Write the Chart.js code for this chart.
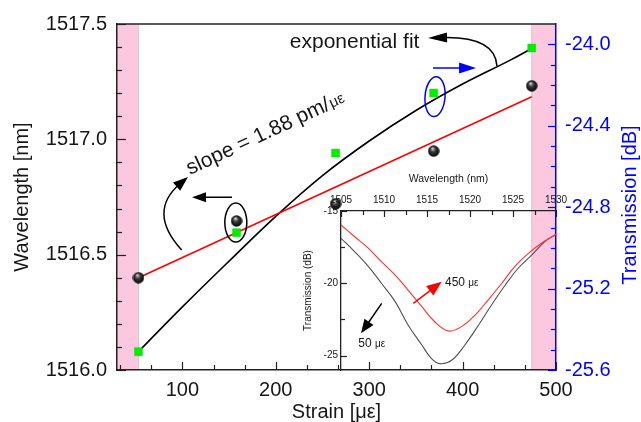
<!DOCTYPE html>
<html>
<head>
<meta charset="utf-8">
<script src="https://cdn.jsdelivr.net/npm/chart.js@4.4.1/dist/chart.umd.min.js"></script>
<style>
  html, body { margin: 0; padding: 0; background: #fff; }
  #wrap { position: relative; width: 641px; height: 422px; }
  #wrap canvas { position: absolute; left: 0; top: 0; }
</style>
</head>
<body>
<div id="wrap">
  <canvas id="mainChart" width="641" height="422"></canvas>
  <canvas id="insetChart" width="641" height="422"></canvas>
</div>
<script>
// main plot: strain vs wavelength (left) and transmission (right)
var strain = [53, 158, 264, 369, 474];
var wavelength = [1516.40, 1516.646, 1516.72, 1516.949, 1517.232];
var transmission = [-25.51, -24.925, -24.534, -24.239, -24.018];

var linFitStrain = [53, 474];
var linFitWavelength = [1516.40, 1517.185];

var expFitStrain = [53, 100, 150, 200, 250, 300, 350, 400, 450, 474];
var expFitTransmission = [-25.51, -25.29, -25.065, -24.845, -24.645, -24.475, -24.325, -24.195, -24.08, -24.02];

var strainTicks = [];
for (var k = 1; k <= 15; k++) strainTicks.push(k * 100 / 3);
var wavelengthTicks = [];
for (var k = 0; k <= 15; k++) wavelengthTicks.push(1516 + k / 10);
var transmissionTicks = [];
for (var k = 0; k <= 16; k++) transmissionTicks.push(-25.6 + k / 10);

// inset: transmission spectra
var spec50Wl = [1505, 1506.6, 1508.2, 1509.7, 1511.3, 1512.8, 1514.4, 1515.5, 1516.5, 1517.9, 1519.4, 1521.0, 1522.5, 1524.1, 1525.6, 1527.2, 1528.7, 1530];
var spec50Db = [-16.89, -17.82, -18.85, -20.0, -21.27, -22.89, -24.27, -25.19, -25.56, -25.31, -24.27, -22.89, -21.50, -20.12, -18.96, -18.04, -17.12, -16.61];
var spec450Wl = [1505, 1506.6, 1508.2, 1509.7, 1511.3, 1512.8, 1514.4, 1515.9, 1517.5, 1519.0, 1520.6, 1522.1, 1523.7, 1525.2, 1526.8, 1528.3, 1530];
var spec450Db = [-15.97, -16.78, -17.58, -18.51, -19.43, -20.47, -21.62, -22.66, -23.30, -23.00, -22.20, -21.16, -20.00, -18.85, -17.93, -17.23, -16.61];
var insetWlTicks = [1505, 1507.5, 1510, 1512.5, 1515, 1517.5, 1520, 1522.5, 1525, 1527.5, 1530];
var insetDbTicks = [-25, -22.5, -20, -17.5, -15];

// annotation anchors, in data units
var noteExpText = [215, 1517.422];
var noteExpArrow = [[436.8, 1517.318], [434.7, 1517.448], [363, 1517.439]];
var noteBlueArrow = [[368.3, 1517.309], [414.4, 1517.309]];
var noteBlueEllipse = [370.5, 1517.185];
var noteSlope = [108.2, 1516.845];
var noteLeftArrow = [[153.1, 1516.749], [110.3, 1516.749]];
var noteCurlArrow = [[99.3, 1516.52], [62.1, 1516.685], [106, 1516.837]];
var noteBlackEllipse = [157.2, 1516.639];
var insetRedArrow = [[1513.41, -21.39], [1516.71, -19.89]];
var insetLabel450 = [1517.09, -19.95];
var insetBlackArrow = [[1509.73, -21.39], [1507.33, -23.46]];
var insetLabel50 = [1507.01, -24.17];

var FONT = "'Liberation Sans', Arial, sans-serif";
var BLUE = '#0000ff';
var INK = '#161616';
Chart.defaults.font.family = FONT;

function isMult(v, step) {
    var r = v / step;
    return Math.abs(r - Math.round(r)) < 1e-6;
}

function makeSphere(d) {
    var c = document.createElement('canvas');
    c.width = d; c.height = d;
    var g = c.getContext('2d');
    var r = d / 2;
    var grad = g.createRadialGradient(r * 0.8, r * 0.55, 0.3, r, r, r);
    grad.addColorStop(0, '#d8d8d8');
    grad.addColorStop(0.4, '#3a3a3a');
    grad.addColorStop(1, '#000');
    g.fillStyle = grad;
    g.beginPath();
    g.arc(r, r, r - 0.3, 0, Math.PI * 2);
    g.fill();
    return c;
}

function arrowHead(ctx, x, y, ang, len, half) {
    var c = Math.cos(ang), s = Math.sin(ang);
    ctx.beginPath();
    ctx.moveTo(x, y);
    ctx.lineTo(x - len * c + half * s, y - len * s - half * c);
    ctx.lineTo(x - len * c - half * s, y - len * s + half * c);
    ctx.closePath();
    ctx.fill();
}

function drawArrow(ctx, pts, color, len, half) {
    ctx.strokeStyle = color;
    ctx.fillStyle = color;
    var a = pts[0], b = pts[pts.length - 1], prev = pts[pts.length - 2];
    var ang = Math.atan2(b[1] - prev[1], b[0] - prev[0]);
    ctx.beginPath();
    ctx.moveTo(a[0], a[1]);
    if (pts.length === 3) {
        ctx.quadraticCurveTo(pts[1][0], pts[1][1], b[0] - len * 0.7 * Math.cos(ang), b[1] - len * 0.7 * Math.sin(ang));
    } else {
        ctx.lineTo(b[0] - len * 0.7 * Math.cos(ang), b[1] - len * 0.7 * Math.sin(ang));
    }
    ctx.stroke();
    arrowHead(ctx, b[0], b[1], ang, len, half);
}

// inward tick marks, long on labelled ticks
var tickMarks = {
    id: 'tickMarks',
    afterDraw: function (chart, args, opts) {
        var ctx = chart.ctx, area = chart.chartArea;
        opts.axes.forEach(function (a) {
            var s = chart.scales[a.id];
            ctx.save();
            ctx.strokeStyle = a.color;
            ctx.lineWidth = 1.2;
            s.ticks.forEach(function (t) {
                var len = t.label !== '' ? a.major : a.minor;
                var p = Math.round(s.getPixelForValue(t.value)) + 0.5;
                ctx.beginPath();
                if (s.position === 'bottom') { ctx.moveTo(p, area.bottom); ctx.lineTo(p, area.bottom - len); }
                else if (s.position === 'top') { ctx.moveTo(p, area.top); ctx.lineTo(p, area.top + len); }
                else if (s.position === 'left') { ctx.moveTo(area.left, p); ctx.lineTo(area.left + len, p); }
                else { ctx.moveTo(area.right, p); ctx.lineTo(area.right - len, p); }
                ctx.stroke();
            });
            ctx.restore();
        });
    }
};

var pinkBands = {
    id: 'pinkBands',
    beforeDraw: function (chart) {
        var ctx = chart.ctx, area = chart.chartArea, x = chart.scales.x;
        var x0 = x.getPixelForValue(strain[0]);
        var x1 = x.getPixelForValue(strain[strain.length - 1]);
        ctx.save();
        ctx.fillStyle = 'rgb(251,200,224)';
        ctx.fillRect(area.left, area.top, x0 - area.left, area.bottom - area.top);
        ctx.fillRect(x1, area.top, area.right - x1, area.bottom - area.top);
        ctx.strokeStyle = 'rgb(225,195,205)';
        ctx.lineWidth = 1;
        ctx.beginPath();
        ctx.moveTo(x0, area.top); ctx.lineTo(x0, area.bottom);
        ctx.moveTo(x1, area.top); ctx.lineTo(x1, area.bottom);
        ctx.stroke();
        ctx.restore();
    }
};

var mainNotes = {
    id: 'mainNotes',
    afterDatasetsDraw: function (chart) {
        var ctx = chart.ctx;
        function pt(p) { return [chart.scales.x.getPixelForValue(p[0]), chart.scales.y.getPixelForValue(p[1])]; }
        ctx.save();
        ctx.lineWidth = 1.5;

        ctx.fillStyle = INK;
        ctx.font = '21px ' + FONT;
        ctx.textAlign = 'left';
        ctx.textBaseline = 'middle';
        var t = pt(noteExpText);
        ctx.fillText('exponential fit', t[0], t[1]);
        drawArrow(ctx, noteExpArrow.map(pt), '#000', 19, 5);

        drawArrow(ctx, noteBlueArrow.map(pt), BLUE, 17, 5.5);
        var e = pt(noteBlueEllipse);
        ctx.strokeStyle = BLUE;
        ctx.beginPath(); ctx.ellipse(e[0], e[1], 10, 20, 0.08, 0, Math.PI * 2); ctx.stroke();

        var be = pt(noteBlackEllipse);
        ctx.strokeStyle = '#000';
        ctx.beginPath(); ctx.ellipse(be[0], be[1], 11, 19.5, 0, 0, Math.PI * 2); ctx.stroke();

        drawArrow(ctx, noteLeftArrow.map(pt), '#000', 14, 5);
        drawArrow(ctx, noteCurlArrow.map(pt), '#000', 15, 5.5);

        var s = pt(noteSlope);
        ctx.translate(s[0], s[1]);
        ctx.rotate(-25 * Math.PI / 180);
        ctx.fillStyle = INK;
        ctx.textBaseline = 'alphabetic';
        ctx.font = '21px ' + FONT;
        var txt = 'slope = 1.88 pm/';
        ctx.fillText(txt, 0, 0);
        var w = ctx.measureText(txt).width;
        ctx.font = '15px ' + FONT;
        ctx.fillText('\u03bc\u03b5', w + 1, -1);
        ctx.restore();
    },
    afterDraw: function (chart) {
        var ctx = chart.ctx, area = chart.chartArea;
        ctx.save();
        ctx.strokeStyle = '#222';
        ctx.lineWidth = 1.5;
        ctx.beginPath();
        ctx.moveTo(area.left, area.top);
        ctx.lineTo(area.right, area.top);
        ctx.stroke();
        ctx.translate(area.right + 74, (area.top + area.bottom) / 2 + 8);
        ctx.rotate(-Math.PI / 2);
        ctx.fillStyle = BLUE;
        ctx.font = '20px ' + FONT;
        ctx.textAlign = 'center';
        ctx.textBaseline = 'middle';
        ctx.fillText('Transmission [dB]', 0, 0);
        ctx.restore();
    }
};

var insetNotes = {
    id: 'insetNotes',
    afterDatasetsDraw: function (chart) {
        var ctx = chart.ctx;
        function pt(p) { return [chart.scales.x.getPixelForValue(p[0]), chart.scales.y.getPixelForValue(p[1])]; }
        ctx.save();
        ctx.lineWidth = 1.5;
        drawArrow(ctx, insetRedArrow.map(pt), '#ff0000', 15, 6);
        drawArrow(ctx, insetBlackArrow.map(pt), '#000', 14, 5.5);
        ctx.fillStyle = INK;
        ctx.textAlign = 'left';
        ctx.textBaseline = 'middle';
        [[insetLabel450, '450 '], [insetLabel50, '50 ']].forEach(function (n) {
            var p = pt(n[0]);
            ctx.font = '12px ' + FONT;
            ctx.fillText(n[1], p[0], p[1]);
            var w = ctx.measureText(n[1]).width;
            ctx.font = '10px ' + FONT;
            ctx.fillText('\u03bc\u03b5', p[0] + w, p[1] + 1);
        });
        ctx.restore();
    }
};

function xy(xs, ys) {
    return xs.map(function (v, i) { return { x: v, y: ys[i] }; });
}

new Chart(document.getElementById('mainChart'), {
    type: 'scatter',
    data: {
        datasets: [
            {
                label: 'Wavelength',
                data: xy(strain, wavelength),
                yAxisID: 'y',
                pointStyle: makeSphere(12),
                pointRadius: 6,
                order: 0
            },
            {
                label: 'Transmission',
                data: xy(strain, transmission),
                yAxisID: 'y1',
                pointStyle: 'rect',
                pointRadius: 5.6,
                backgroundColor: '#00ee00',
                borderColor: '#00dd00',
                borderWidth: 0.5,
                order: 1
            },
            {
                label: 'Linear fit',
                data: xy(linFitStrain, linFitWavelength),
                yAxisID: 'y',
                showLine: true,
                pointRadius: 0,
                borderColor: '#ff0000',
                borderWidth: 1.6,
                order: 2
            },
            {
                label: 'Exponential fit',
                data: xy(expFitStrain, expFitTransmission),
                yAxisID: 'y1',
                showLine: true,
                pointRadius: 0,
                borderColor: '#000',
                borderWidth: 1.6,
                tension: 0.4,
                order: 3
            }
        ]
    },
    options: {
        responsive: false,
        animation: false,
        events: [],
        layout: { padding: { top: 24, left: 0, right: 0, bottom: 0 } },
        plugins: {
            legend: { display: false },
            tooltip: { enabled: false },
            tickMarks: {
                axes: [
                    { id: 'x', color: '#222', major: 8, minor: 5 },
                    { id: 'y', color: '#222', major: 9, minor: 5 },
                    { id: 'y1', color: BLUE, major: 8, minor: 5 }
                ]
            }
        },
        scales: {
            x: {
                type: 'linear',
                position: 'bottom',
                min: 30,
                max: 500,
                afterBuildTicks: function (s) { s.ticks = strainTicks.map(function (v) { return { value: v }; }); },
                afterFit: function (s) { s.height = 52; },
                grid: { display: false, drawTicks: false },
                border: { display: true, color: '#222', width: 1.5, z: 1 },
                ticks: {
                    autoSkip: false,
                    maxRotation: 0,
                    padding: 8,
                    color: INK,
                    font: { size: 20 },
                    callback: function (v) { return isMult(v, 100) ? String(Math.round(v)) : ''; }
                },
                title: {
                    display: true,
                    text: 'Strain [\u03bc\u03b5]',
                    color: INK,
                    font: { size: 20, lineHeight: 1 },
                    padding: { top: 0, bottom: 0 }
                }
            },
            y: {
                position: 'left',
                min: 1516,
                max: 1517.5,
                afterBuildTicks: function (s) { s.ticks = wavelengthTicks.map(function (v) { return { value: v }; }); },
                afterFit: function (s) { s.width = 117; },
                grid: { display: false, drawTicks: false },
                border: { display: true, color: '#222', width: 1.5, z: 1 },
                ticks: {
                    autoSkip: false,
                    padding: 10,
                    color: INK,
                    font: { size: 20 },
                    callback: function (v) { return isMult(v - 1516, 0.5) ? v.toFixed(1) : ''; }
                },
                title: {
                    display: true,
                    text: 'Wavelength [nm]',
                    color: INK,
                    font: { size: 20 },
                    padding: { top: 10, bottom: 0 }
                }
            },
            y1: {
                position: 'right',
                min: -25.6,
                max: -23.9,
                afterBuildTicks: function (s) { s.ticks = transmissionTicks.map(function (v) { return { value: v }; }); },
                afterFit: function (s) { s.width = 85; },
                grid: { display: false, drawTicks: false },
                border: { display: true, color: BLUE, width: 1.5, z: 1 },
                ticks: {
                    autoSkip: false,
                    padding: 9,
                    color: BLUE,
                    font: { size: 20 },
                    callback: function (v) { return isMult(v + 25.6, 0.4) ? v.toFixed(1) : ''; }
                },
                title: { display: false }
            }
        }
    },
    plugins: [pinkBands, mainNotes, tickMarks]
});

new Chart(document.getElementById('insetChart'), {
    type: 'scatter',
    data: {
        datasets: [
            {
                label: '450',
                data: xy(spec450Wl, spec450Db),
                showLine: true,
                pointRadius: 0,
                borderColor: '#ff3030',
                borderWidth: 1.1,
                tension: 0.4
            },
            {
                label: '50',
                data: xy(spec50Wl, spec50Db),
                showLine: true,
                pointRadius: 0,
                borderColor: '#505050',
                borderWidth: 1.1,
                tension: 0.4
            }
        ]
    },
    options: {
        responsive: false,
        animation: false,
        events: [],
        layout: { padding: { top: 170, left: 300, right: 85, bottom: 52 } },
        plugins: {
            legend: { display: false },
            tooltip: { enabled: false },
            tickMarks: {
                axes: [
                    { id: 'x', color: '#222', major: 6, minor: 4 },
                    { id: 'y', color: '#222', major: 6, minor: 4 }
                ]
            }
        },
        scales: {
            x: {
                type: 'linear',
                position: 'top',
                min: 1505,
                max: 1530,
                afterBuildTicks: function (s) { s.ticks = insetWlTicks.map(function (v) { return { value: v }; }); },
                afterFit: function (s) { s.height = 41; },
                grid: { display: false, drawTicks: false },
                border: { display: true, color: '#222', width: 1.3 },
                ticks: {
                    autoSkip: false,
                    maxRotation: 0,
                    padding: 5,
                    color: INK,
                    font: { size: 10 },
                    callback: function (v) { return isMult(v, 5) ? String(v) : ''; }
                },
                title: {
                    display: true,
                    text: 'Wavelength (nm)',
                    color: INK,
                    font: { size: 10.5 },
                    padding: { top: 3, bottom: 0 }
                }
            },
            y: {
                position: 'left',
                min: -26,
                max: -15,
                afterBuildTicks: function (s) { s.ticks = insetDbTicks.map(function (v) { return { value: v }; }); },
                afterFit: function (s) { s.width = 41; },
                grid: { display: false, drawTicks: false },
                border: { display: true, color: '#222', width: 1.3 },
                ticks: {
                    autoSkip: false,
                    padding: 3,
                    color: INK,
                    font: { size: 10 },
                    callback: function (v) { return isMult(v, 5) ? String(v) : ''; }
                },
                title: {
                    display: true,
                    text: 'Transmission (dB)',
                    color: INK,
                    font: { size: 10 },
                    padding: { top: 2, bottom: 0 }
                }
            }
        }
    },
    plugins: [insetNotes, tickMarks]
});
</script>
</body>
</html>
